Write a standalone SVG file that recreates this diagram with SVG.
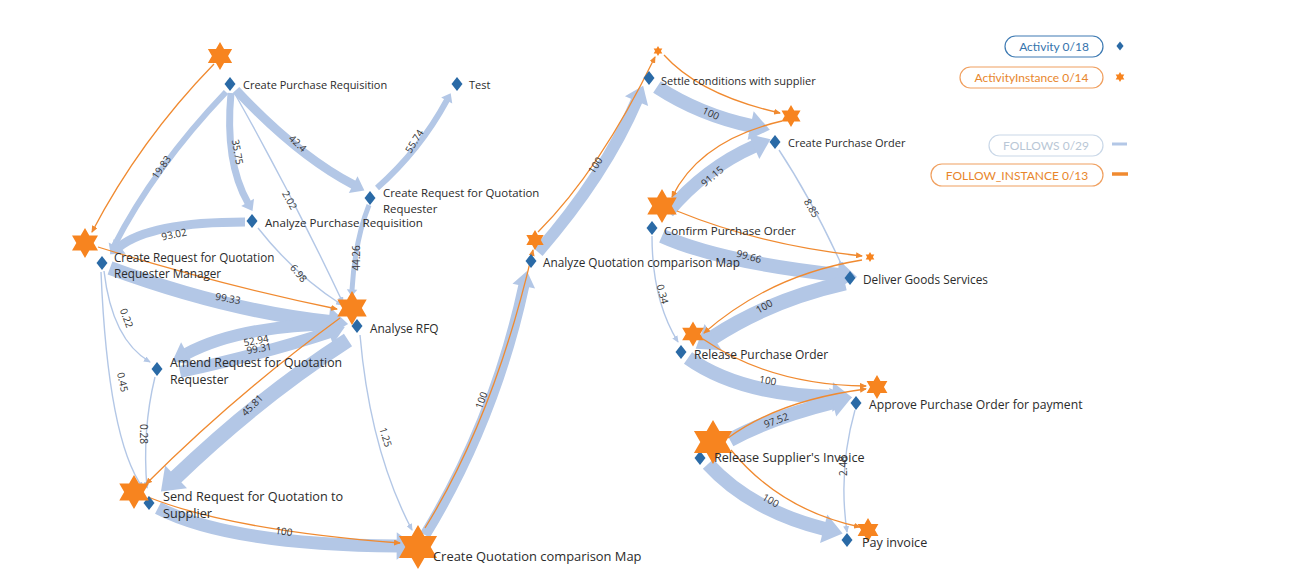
<svg xmlns="http://www.w3.org/2000/svg" width="1294" height="587" viewBox="0 0 1294 587">
<style>
.e{fill:none;stroke:#b3c7e6;marker-end:url(#ah)}
.t{fill:none;stroke:#b3c7e6;stroke-width:1.4;marker-end:url(#aht)}
.o{fill:none;stroke:#f08a30;stroke-width:1.3;marker-end:url(#aho)}
.lbl{font-family:"Open Sans","Noto Sans",sans-serif;font-size:11px;fill:#2b2b2b}
.el{font-family:"Open Sans","Noto Sans",sans-serif;font-size:10px;fill:#333;text-anchor:middle;dominant-baseline:central}
.star{fill:#f7841f}
.dia{fill:#2a6aa6}
.lg{font-family:Lato,"Open Sans",sans-serif;font-size:12px;text-anchor:middle}
.pill{fill:#fff;stroke-width:1.2}
</style>
<defs>
<path id="star" d="M0,-1 L0.2887,-0.5 L0.866,-0.5 L0.5774,0 L0.866,0.5 L0.2887,0.5 L0,1 L-0.2887,0.5 L-0.866,0.5 L-0.5774,0 L-0.866,-0.5 L-0.2887,-0.5 Z"/>
<path id="dia" d="M0,-7 L5.5,0 L0,7 L-5.5,0 Z"/>
<marker id="ah" markerUnits="strokeWidth" markerWidth="1.4" markerHeight="2.1" refX="0.1" refY="1.05" orient="auto" overflow="visible"><path d="M0,0 L1.4,1.05 L0,2.1 Z" fill="#b3c7e6"/></marker>
<marker id="aht" markerUnits="userSpaceOnUse" markerWidth="7" markerHeight="6" refX="6" refY="3" orient="auto"><path d="M0,0 L7,3 L0,6 Z" fill="#b3c7e6"/></marker>
<marker id="aho" markerUnits="userSpaceOnUse" markerWidth="7" markerHeight="6" refX="6" refY="3" orient="auto"><path d="M0,0 L7,3 L0,6 Z" fill="#f08a30"/></marker>
</defs>
<rect width="1294" height="587" fill="#fff"/>
<g id="connectors">
<g id="follows">
<path class="e" style="stroke-width:6" d="M226,92 Q154.5,167 114,246"/>
<path class="e" style="stroke-width:7" d="M231,93 Q224.5,162 248,203"/>
<path class="e" style="stroke-width:9" d="M236,90 Q298,156 354,185"/>
<path class="e" style="stroke-width:6" d="M377,188 Q420,150 447,100"/>
<path class="e" style="stroke-width:9" d="M245,222 Q150,222 119,247"/>
<path class="e" style="stroke-width:5" d="M369,205 Q355,240 352,290"/>
<path class="e" style="stroke-width:14" d="M110,268 Q227,311 330,322"/>
<path class="e" style="stroke-width:12" d="M340,324 Q240,325 186,354"/>
<path class="e" style="stroke-width:12" d="M180,372 Q270,352 330,332"/>
<path class="e" style="stroke-width:15" d="M348,340 Q258,398 175,478"/>
<path class="e" style="stroke-width:13" d="M158,508 Q230,545 398,546"/>
<path class="e" style="stroke-width:11" d="M425,535 Q495,420 524,285"/>
<path class="e" style="stroke-width:12" d="M538,252 Q605,175 637,100"/>
<path class="e" style="stroke-width:14" d="M657,87 Q700,115 752,126"/>
<path class="e" style="stroke-width:13" d="M668,212 Q705,168 755,146"/>
<path class="e" style="stroke-width:14" d="M662,236 Q720,262 839,275"/>
<path class="e" style="stroke-width:15" d="M845,283 Q770,300 712,338"/>
<path class="e" style="stroke-width:14" d="M688,358 Q740,395 834,397"/>
<path class="e" style="stroke-width:14" d="M730,440 Q770,418 834,402"/>
<path class="e" style="stroke-width:14" d="M708,464 Q750,510 825,529"/>
<path class="t" d="M235,94 Q292,195 343,303"/>
<path class="t" d="M258,228 Q295,275 342,305"/>
<path class="t" d="M104,271 Q112,340 150,362"/>
<path class="t" d="M101,272 Q108,440 143,488"/>
<path class="t" d="M155,377 Q142,430 147,488"/>
<path class="t" d="M360,335 Q370,450 412,530"/>
<path class="t" d="M779,150 Q812,200 843,268"/>
<path class="t" d="M652,236 Q652,300 678,342"/>
<path class="t" d="M855,410 Q838,470 847,532"/>
</g>
<g id="follow-instances">
<path class="o" d="M214,64 Q140,140 92,232"/>
<path class="o" d="M98,247 Q220,285 337,309"/>
<path class="o" d="M340,318 Q235,395 146,484"/>
<path class="o" d="M148,497 Q230,530 400,543"/>
<path class="o" d="M425,528 Q495,415 533,250"/>
<path class="o" d="M538,232 Q600,170 655,57"/>
<path class="o" d="M664,55 Q700,95 780,113"/>
<path class="o" d="M782,121 Q700,140 672,197"/>
<path class="o" d="M677,211 Q760,245 862,256"/>
<path class="o" d="M862,260 Q770,275 704,333"/>
<path class="o" d="M703,339 Q770,385 866,386"/>
<path class="o" d="M728,438 Q780,400 866,389"/>
<path class="o" d="M731,450 Q780,510 860,527"/>
</g>
<g id="edge-labels">
<text class="el" transform="translate(161,167) rotate(-55)">19.83</text>
<text class="el" transform="translate(238,152) rotate(80)">35.75</text>
<text class="el" transform="translate(290,200) rotate(62)">2.02</text>
<text class="el" transform="translate(298,143) rotate(43)">42.4</text>
<text class="el" transform="translate(414,141) rotate(-58)">55.74</text>
<text class="el" transform="translate(174,234) rotate(-12)">93.02</text>
<text class="el" transform="translate(299,273) rotate(50)">6.98</text>
<text class="el" transform="translate(356,258) rotate(-90)">44.26</text>
<text class="el" transform="translate(228,298) rotate(10)">99.33</text>
<text class="el" transform="translate(127,318) rotate(70)">0.22</text>
<text class="el" transform="translate(123,382) rotate(78)">0.45</text>
<text class="el" transform="translate(256,340) rotate(-10)">52.94</text>
<text class="el" transform="translate(259,348) rotate(-10)">99.31</text>
<text class="el" transform="translate(252,405) rotate(-45)">45.81</text>
<text class="el" transform="translate(144,434) rotate(90)">0.28</text>
<text class="el" transform="translate(386,437) rotate(73)">1.25</text>
<text class="el" transform="translate(284,531) rotate(8)">100</text>
<text class="el" transform="translate(481,400) rotate(-70)">100</text>
<text class="el" transform="translate(595,165) rotate(-58)">100</text>
<text class="el" transform="translate(711,113) rotate(25)">100</text>
<text class="el" transform="translate(712,176) rotate(-40)">91.15</text>
<text class="el" transform="translate(812,208) rotate(60)">8.85</text>
<text class="el" transform="translate(749,256) rotate(15)">99.66</text>
<text class="el" transform="translate(663,294) rotate(75)">0.34</text>
<text class="el" transform="translate(764,306) rotate(-30)">100</text>
<text class="el" transform="translate(768,380) rotate(10)">100</text>
<text class="el" transform="translate(776,420) rotate(-20)">97.52</text>
<text class="el" transform="translate(843,466) rotate(-90)">2.48</text>
<text class="el" transform="translate(771,500) rotate(30)">100</text>
</g>
</g>
<g id="activities">
<g id="a-cpr"><use href="#dia" class="dia" transform="translate(230,84)"/></g>
<g id="a-test"><use href="#dia" class="dia" transform="translate(457,84)"/></g>
<g id="a-crfqr"><use href="#dia" class="dia" transform="translate(370,198)"/></g>
<g id="a-apr"><use href="#dia" class="dia" transform="translate(252,221)"/></g>
<g id="a-crfqrm"><use href="#dia" class="dia" transform="translate(102,263)"/></g>
<g id="a-arfq"><use href="#dia" class="dia" transform="translate(357,326)"/></g>
<g id="a-amend"><use href="#dia" class="dia" transform="translate(157,369)"/></g>
<g id="a-send"><use href="#dia" class="dia" transform="translate(149,503)"/></g>
<g id="a-cqcm"><use href="#dia" class="dia" transform="translate(420,552)"/></g>
<g id="a-aqcm"><use href="#dia" class="dia" transform="translate(531,261)"/></g>
<g id="a-settle"><use href="#dia" class="dia" transform="translate(649,78)"/></g>
<g id="a-cpo"><use href="#dia" class="dia" transform="translate(775,142)"/></g>
<g id="a-confirm"><use href="#dia" class="dia" transform="translate(652,228)"/></g>
<g id="a-deliver"><use href="#dia" class="dia" transform="translate(850,278)"/></g>
<g id="a-rpo"><use href="#dia" class="dia" transform="translate(681,352)"/></g>
<g id="a-approve"><use href="#dia" class="dia" transform="translate(856,403)"/></g>
<g id="a-rsi"><use href="#dia" class="dia" transform="translate(700,458)"/></g>
<g id="a-pay"><use href="#dia" class="dia" transform="translate(847,540)"/></g>
</g>
<g id="activity-instances">
<g id="i-cpr"><use href="#star" class="star" transform="translate(220,56) scale(14)"/></g>
<g id="i-crfqrm"><use href="#star" class="star" transform="translate(85,243) scale(15)"/></g>
<g id="i-arfq"><use href="#star" class="star" transform="translate(352,308) scale(17)"/></g>
<g id="i-send"><use href="#star" class="star" transform="translate(134,492) scale(17)"/></g>
<g id="i-cqcm"><use href="#star" class="star" transform="translate(418,547) scale(22)"/></g>
<g id="i-aqcm"><use href="#star" class="star" transform="translate(535,240) scale(10)"/></g>
<g id="i-settle"><use href="#star" class="star" transform="translate(658,51) scale(5)"/></g>
<g id="i-cpo"><use href="#star" class="star" transform="translate(791,116) scale(11)"/></g>
<g id="i-confirm"><use href="#star" class="star" transform="translate(662,206) scale(17)"/></g>
<g id="i-deliver"><use href="#star" class="star" transform="translate(870,257) scale(5)"/></g>
<g id="i-rpo"><use href="#star" class="star" transform="translate(693,334) scale(12.5)"/></g>
<g id="i-approve"><use href="#star" class="star" transform="translate(877,387) scale(12)"/></g>
<g id="i-rsi"><use href="#star" class="star" transform="translate(713,442) scale(22)"/></g>
<g id="i-pay"><use href="#star" class="star" transform="translate(868,530) scale(12)"/></g>
</g>
<g id="labels">
<text class="lbl" x="243" y="89">Create Purchase Requisition</text>
<text class="lbl" x="469" y="89">Test</text>
<text class="lbl" x="383" y="197" style="font-size:11.4px">Create Request for Quotation</text>
<text class="lbl" x="383" y="213" style="font-size:11.4px">Requester</text>
<text class="lbl" x="265" y="227" style="font-size:11.6px">Analyze Purchase Requisition</text>
<text class="lbl" x="114" y="262" style="font-size:11.7px">Create Request for Quotation</text>
<text class="lbl" x="114" y="278" style="font-size:11.7px">Requester Manager</text>
<text class="lbl" x="370" y="333" style="font-size:11.9px">Analyse RFQ</text>
<text class="lbl" x="170" y="367" style="font-size:12.3px">Amend Request for Quotation</text>
<text class="lbl" x="170" y="384" style="font-size:12.3px">Requester</text>
<text class="lbl" x="163" y="501" style="font-size:12.7px">Send Request for Quotation to</text>
<text class="lbl" x="163" y="518" style="font-size:12.7px">Supplier</text>
<text class="lbl" x="433" y="561" style="font-size:12.9px">Create Quotation comparison Map</text>
<text class="lbl" x="543" y="267" style="font-size:11.8px">Analyze Quotation comparison Map</text>
<text class="lbl" x="661" y="85">Settle conditions with supplier</text>
<text class="lbl" x="788" y="147">Create Purchase Order</text>
<text class="lbl" x="664" y="235" style="font-size:11.6px">Confirm Purchase Order</text>
<text class="lbl" x="863" y="284" style="font-size:11.8px">Deliver Goods Services</text>
<text class="lbl" x="694" y="359" style="font-size:12px">Release Purchase Order</text>
<text class="lbl" x="869" y="409" style="font-size:12.2px">Approve Purchase Order for payment</text>
<text class="lbl" x="714" y="462" style="font-size:12.6px">Release Supplier's Invoice</text>
<text class="lbl" x="862" y="547" style="font-size:12.6px">Pay invoice</text>
</g>
<g id="legend">
<rect class="pill" x="1005" y="36" width="98" height="21" rx="10.5" stroke="#3f7bb3"/>
<text class="lg" x="1054" y="51" fill="#3574ad">Activity 0/18</text>
<use href="#dia" class="dia" transform="translate(1120,46) scale(0.65)"/>
<rect class="pill" x="960" y="67" width="143" height="21" rx="10.5" stroke="#f0a060"/>
<text class="lg" x="1031.5" y="82" fill="#e8862c">ActivityInstance 0/14</text>
<use href="#star" class="star" transform="translate(1120,77) scale(5)"/>
<rect class="pill" x="989" y="135" width="114" height="21" rx="10.5" stroke="#cad8e8"/>
<text class="lg" x="1046" y="150" fill="#b9c7d6">FOLLOWS 0/29</text>
<line x1="1112" y1="144" x2="1127" y2="144" stroke="#b3c7e6" stroke-width="3"/>
<rect class="pill" x="931" y="164" width="172" height="22" rx="11" stroke="#f0a060"/>
<text class="lg" x="1017" y="180" fill="#e8862c">FOLLOW_INSTANCE 0/13</text>
<line x1="1112" y1="174" x2="1128" y2="174" stroke="#f08a30" stroke-width="3.5"/>
</g>
</svg>
